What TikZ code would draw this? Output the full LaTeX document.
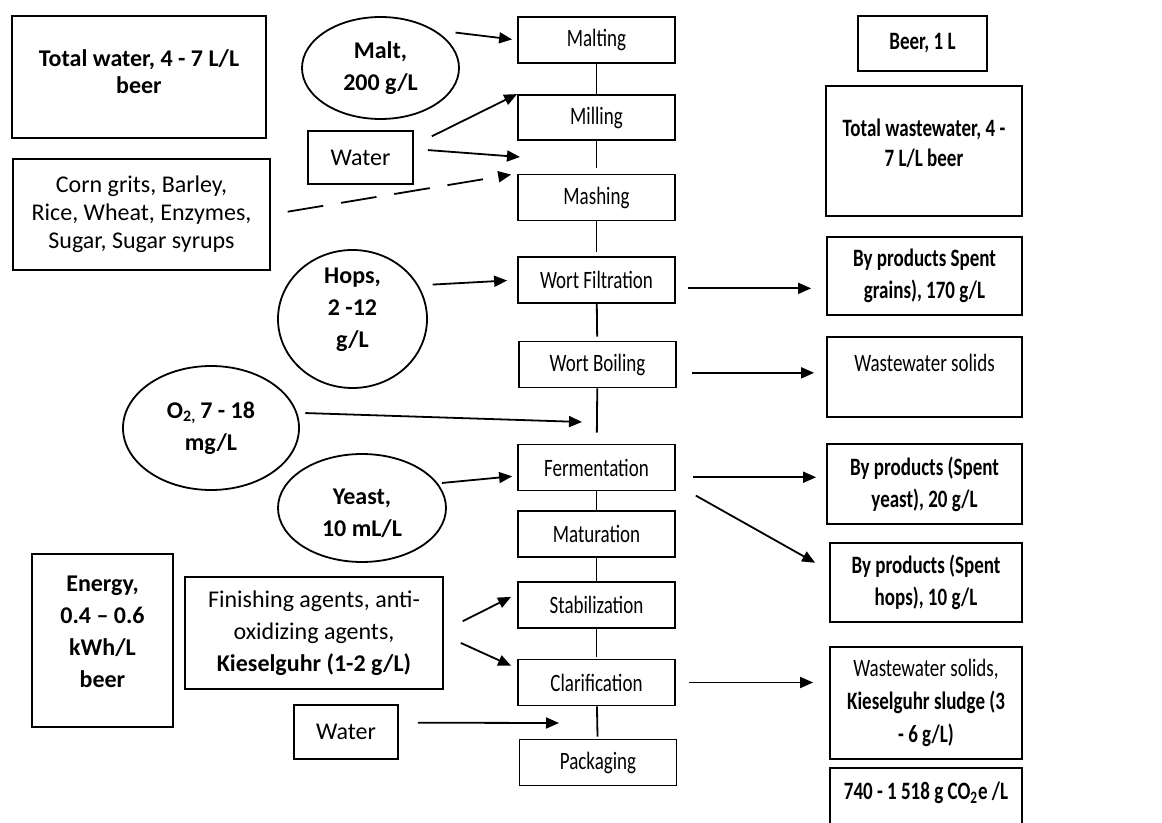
\documentclass[tikz,border=0pt]{standalone}
\usepackage{fontspec}
\setmainfont{Carlito}
\newfontfamily\narrowfont[FakeStretch=0.76]{Carlito}
\usetikzlibrary{arrows.meta,shapes}

\begin{document}
\begin{tikzpicture}[x=0.5pt,y=-0.5pt]
\tikzstyle{every node}+=[inner sep=0pt, align=center, font=\fontsize{12}{15}\selectfont]
\tikzstyle{box}=[draw, line width=0.9pt]
\tikzstyle{proc}=[box, minimum width=78.5pt, minimum height=23pt, font=\fontsize{12.5}{15}\selectfont\narrowfont]
\tikzstyle{outbox}=[box, font=\fontsize{12.5}{16}\selectfont\narrowfont\bfseries]
\tikzstyle{outtxt}=[font=\fontsize{12.5}{15}\selectfont\narrowfont\bfseries]
\tikzstyle{blob}=[draw, ellipse, line width=0.9pt, font=\fontsize{12}{16}\selectfont\bfseries]
\tikzstyle{blobtxt}=[font=\fontsize{12}{16}\selectfont\bfseries]
\tikzstyle{arr}=[line width=0.9pt, -{Triangle[length=6.5pt,width=5.5pt]}]
\tikzstyle{link}=[line width=0.9pt]
\useasboundingbox (0,0) rectangle (1162,823);
% process steps
\node[proc] (malting) at (596.5,40) {Malting};
\node[proc, minimum height=22.5pt] (milling) at (596.5,117.5) {Milling};
\node[proc] (mashing) at (596.5,197.5) {Mashing};
\node[proc] (filtration) at (596.5,280) {Wort Filtration};
\node[proc] (boiling) at (597.5,364.5) {Wort Boiling};
\node[proc] (ferment) at (596.5,467.5) {Fermentation};
\node[proc] (maturation) at (596.5,534) {Maturation};
\node[proc] (stabil) at (596.5,605) {Stabilization};
\node[proc] (clarif) at (596.5,682.5) {Clarification};
\node[proc] (packaging) at (598,762.5) {Packaging};
% inputs
\node[box, minimum width=127pt, minimum height=61pt] (totwater) at (139,77) {};
\node[font=\fontsize{12}{13.5}\selectfont\bfseries] (totwater-txt) at (139,71.5) {Total water, 4 - 7 L/L\\beer};
\node[blob, minimum width=78.5pt, minimum height=51pt] (malt) at (380.5,68) {Malt,\\200 g/L};
\node[box, minimum width=52.5pt, minimum height=26.5pt] (water1) at (360.5,157.5) {Water};
\node[box, minimum width=128.5pt, minimum height=55.5pt, font=\fontsize{12}{14}\selectfont] (grits) at (141.5,214.5) {Corn grits, Barley,\\Rice, Wheat, Enzymes,\\Sugar, Sugar syrups};
\node[blob, minimum width=74.5pt, minimum height=69pt] (hops) at (352.5,319) {};
\node[blobtxt] (hops-txt) at (352.5,310) {Hops,\\2 -12\\g/L};
\node[blob, minimum width=88pt, minimum height=62pt] (oxygen) at (211,428) {O\textsubscript{2,}\,7 - 18\\mg/L};
\node[blob, minimum width=84pt, minimum height=54pt] (yeast) at (362,508) {};
\node[blobtxt] (yeast-txt) at (362,513) {Yeast,\\10 mL/L};
\node[box, minimum width=70.5pt, minimum height=86.5pt] (energy) at (102.5,640.5) {};
\node[font=\fontsize{12}{16}\selectfont\bfseries] (energy-txt) at (102.5,632) {Energy,\\0.4 – 0.6\\kWh/L\\beer};
\node[box, minimum width=129pt, minimum height=56pt, font=\fontsize{12}{16}\selectfont] (finishing) at (314,633) {Finishing agents, anti-\\oxidizing agents,\\\textbf{Kieselguhr (1-2 g/L)}};
\node[box, minimum width=52pt, minimum height=27pt] (water2) at (346,732) {Water};
% outputs
\node[outbox, minimum width=64.5pt, minimum height=27.5pt] (beer) at (922.5,43.5) {Beer, 1 L};
\node[box, minimum width=98pt, minimum height=65pt] (wastewater) at (924,151) {};
\node[outtxt] (wastewater-txt) at (924,143) {Total wastewater, 4 -\\7 L/L beer};
\node[outbox, minimum width=97.5pt, minimum height=39pt] (grains) at (924.5,276) {By products Spent\\grains), 170 g/L};
\node[box, minimum width=97.5pt, minimum height=40pt] (solids) at (924.5,377) {};
\node[font=\fontsize{12.5}{15}\selectfont\narrowfont] (solids-txt) at (924.5,363) {Wastewater solids};
\node[outbox, minimum width=97.5pt, minimum height=40pt] (spentyeast) at (924.5,484) {By products (Spent\\yeast), 20 g/L};
\node[outbox, minimum width=96pt, minimum height=39.5pt] (spenthops) at (926,582.5) {By products (Spent\\hops), 10 g/L};
\node[box, minimum width=96pt, minimum height=56pt, font=\fontsize{12.5}{16.5}\selectfont\narrowfont] (sludge) at (926,703) {Wastewater solids,\\\textbf{Kieselguhr sludge (3}\\\textbf{- 6 g/L)}};
\node[box, minimum width=96pt, minimum height=36pt] (carbon) at (926,804) {};
\node[outtxt] (carbon-txt) at (926,793) {740 - 1 518 g CO\textsubscript{2}e /L};
% free arrow ends
\coordinate (mill-mash) at (520,157);
\coordinate (o2-in) at (582,422);
\coordinate (w2-in) at (559,723);
% process line
\draw[link] (malting) -- (milling);
\draw[link, shorten >=3pt] (milling) -- (mashing);
\draw[link, shorten >=2pt] (mashing) -- (filtration);
\draw[link, shorten >=2pt] (filtration) -- (boiling);
\draw[link, shorten >=5.5pt] (boiling) -- (ferment);
\draw[link] (ferment) -- (maturation);
\draw[link] (maturation) -- (stabil);
\draw[link, shorten >=1pt] (stabil) -- (clarif);
\draw[link, shorten >=1pt] (clarif) -- (packaging);
% inputs in
\draw[arr, shorten <=10.5pt, shorten >=2.5pt] (malt.35) -- (malting.west);
\draw[arr, shorten <=10pt] (water1.13) -- (milling.north west);
\draw[arr, shorten <=7pt] (water1.9) -- (mill-mash);
\draw[arr, dash pattern=on 18pt off 9pt, shorten <=8.5pt, shorten >=3pt] (grits.east) -- (mashing.north west);
\draw[arr, shorten <=7pt, shorten >=5pt] (hops.27) -- (filtration.west);
\draw[arr, shorten <=4pt] (oxygen.10) -- (o2-in);
\draw[arr, shorten <=2pt, shorten >=2.5pt] (yeast.18) -- (ferment.186);
\draw[arr, shorten <=10.5pt, shorten >=3.4pt] (finishing.1) -- (stabil.172);
\draw[arr, shorten <=9.3pt, shorten >=3.3pt] (finishing.-1.5) -- (clarif.170.6);
\draw[arr, shorten <=9.5pt] (water2.10) -- (w2-in);
% outputs out
\draw[arr, shorten <=6pt, shorten >=7.5pt] (filtration.-6.5) -- (filtration.-6.5 -| grains.west);
\draw[arr, shorten <=7.5pt, shorten >=6pt] (boiling.-6) -- (boiling.-6 -| solids.west);
\draw[arr, shorten <=8.5pt, shorten >=5pt] (ferment.-7) -- (ferment.-7 -| spentyeast.west);
\draw[arr, shorten <=11.4pt, shorten >=8pt] (ferment.-12) -- (spenthops.173);
\draw[arr, shorten <=6.5pt, shorten >=8pt] (clarif.east) -- (clarif.east -| sludge.west);
\end{tikzpicture}
\end{document}
